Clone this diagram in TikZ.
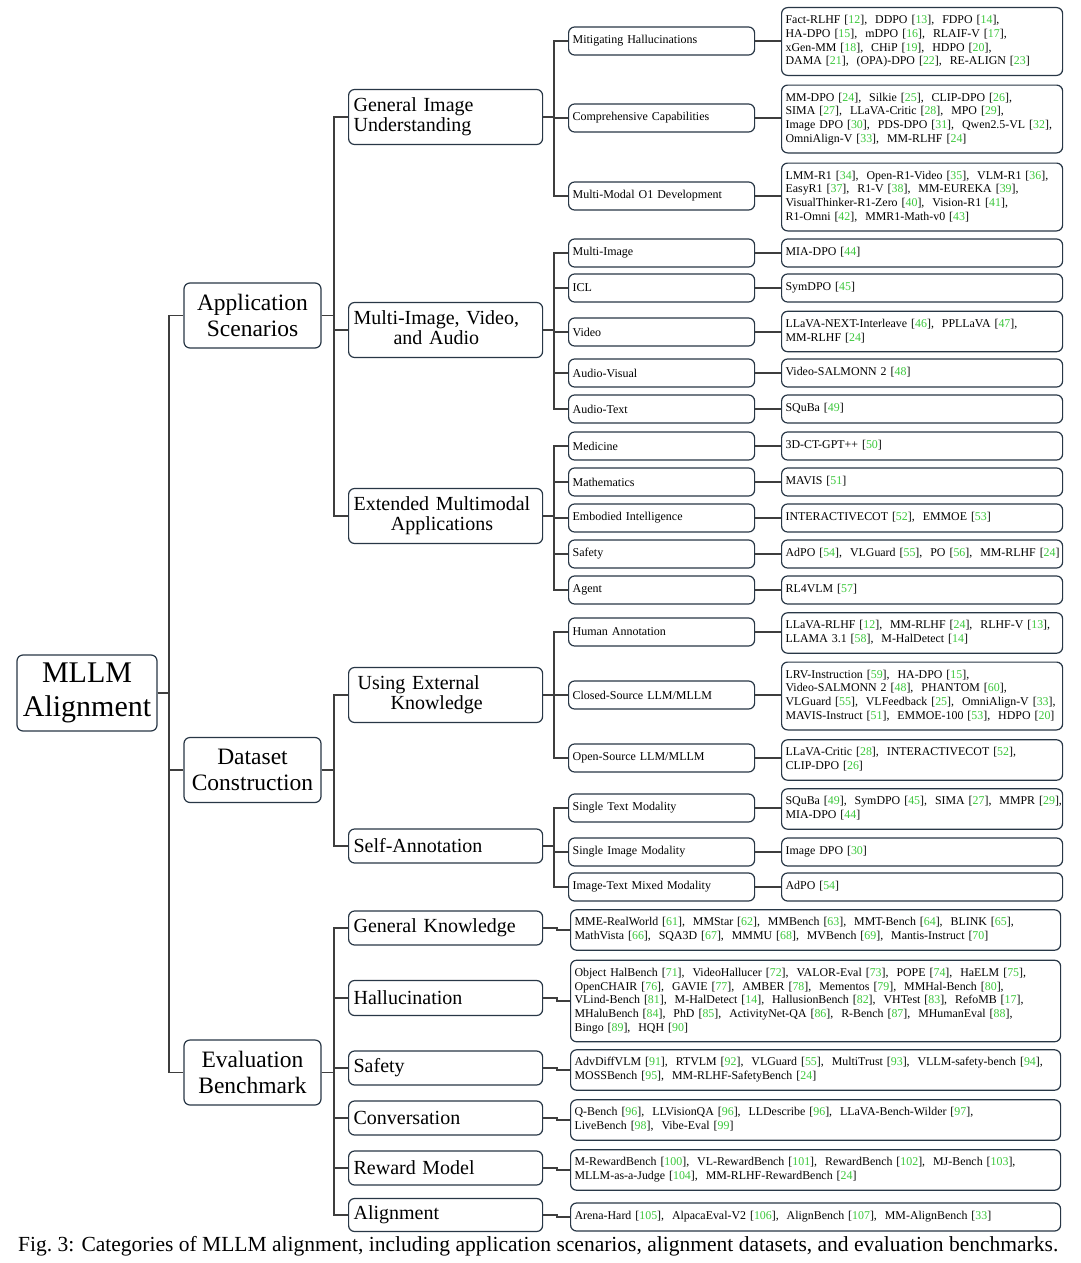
\documentclass[tikz,border=0pt]{standalone}
\usepackage{fontspec}
\setmainfont{Liberation Serif}
\usepackage{graphicx}
\definecolor{bordercol}{RGB}{40,55,70}
\definecolor{linecol}{RGB}{62,62,62}
\definecolor{citegreen}{RGB}{60,200,60}
\newcommand\cit[1]{[{\color{citegreen}#1}]}
\newcommand\lns[1]{\begin{tabular}{@{}l@{}}#1\end{tabular}}
\tikzset{
  box/.style={draw=bordercol, line width=1.2pt, rounded corners=6pt, fill=white, text=black},
  rootbox/.style={box, minimum width=140pt, minimum height=76pt, inner sep=2pt, align=center, font=\fontsize{30}{34}\selectfont},
  lonebox/.style={box, minimum width=137pt, minimum height=65pt, inner sep=2pt, align=center, font=\fontsize{23.5}{26}\selectfont},
  ltwobox/.style={box, text width=184pt, inner xsep=5pt, inner ysep=3pt, align=left, font=\fontsize{20}{20}\selectfont, anchor=west},
  midbox/.style={box, text width=178pt, inner xsep=4pt, inner ysep=3pt, minimum height=28pt, align=left, font=\fontsize{12}{13.7}\selectfont, anchor=west},
  leafbox/.style={box, text width=273pt, inner xsep=4pt, inner ysep=6.5pt, minimum height=28pt, align=left, font=\fontsize{11.9}{13.7}\selectfont, anchor=west},
  evalbox/.style={leafbox, text width=482pt},
  conn/.style={draw=linecol, line width=1.8pt},
}
\begin{document}
\begin{tikzpicture}[x=1pt,y=-1pt]
\fill[white] (0,0) rectangle (1080,1263);
\useasboundingbox (0,0) rectangle (1080,1263);

% root and level 1
\node[rootbox] (root) at (87,693) {MLLM\\Alignment};
\node[lonebox] (app) at (252.5,315.5) {Application\\Scenarios};
\node[lonebox] (data) at (252.5,770) {Dataset\\Construction};
\node[lonebox] (eval) at (252.5,1072.5) {Evaluation\\Benchmark};

% level 2
\node[ltwobox, minimum height=55pt] (giu) at (348,117) {General Image\\Understanding};
\node[ltwobox, minimum height=55pt] (miva) at (348,330) {\begin{tabular}{@{}c@{}}Multi-Image, Video,\\and Audio\end{tabular}};
\node[ltwobox, minimum height=55pt] (ema) at (348,516) {\begin{tabular}{@{}c@{}}Extended Multimodal\\Applications\end{tabular}};
\node[ltwobox, minimum height=55pt] (uek) at (348,695) {\hspace*{4pt}Using External\\\hspace*{37pt}Knowledge};
\node[ltwobox, minimum height=34pt] (sa) at (348,846) {Self-Annotation};
\node[ltwobox, minimum height=34pt] (gk) at (348,928) {General Knowledge};
\node[ltwobox, minimum height=35pt] (hal) at (348,998) {Hallucination};
\node[ltwobox, minimum height=34pt] (saf) at (348,1068) {Safety};
\node[ltwobox, minimum height=34pt] (conv) at (348,1118) {Conversation};
\node[ltwobox, minimum height=34pt] (rm) at (348,1168) {Reward Model};
\node[ltwobox, minimum height=33pt] (alg) at (348,1215) {Alignment};

% level 3 (middle column)
\node[midbox] (mh) at (568,41) {Mitigating Hallucinations};
\node[midbox] (cc) at (568,118) {Comprehensive Capabilities};
\node[midbox] (mo) at (568,196) {Multi-Modal O1 Development};
\node[midbox] (mi) at (568,253) {Multi-Image};
\node[midbox] (icl) at (568,288) {ICL};
\node[midbox] (vid) at (568,332) {Video};
\node[midbox] (av) at (568,373) {Audio-Visual};
\node[midbox] (at) at (568,409) {Audio-Text};
\node[midbox] (med) at (568,446) {Medicine};
\node[midbox] (math) at (568,482) {Mathematics};
\node[midbox] (emb) at (568,518) {Embodied Intelligence};
\node[midbox] (safe) at (568,554) {Safety};
\node[midbox] (agent) at (568,590) {Agent};
\node[midbox] (ha) at (568,632) {Human Annotation};
\node[midbox] (cs) at (568,695) {Closed-Source LLM/MLLM};
\node[midbox] (os) at (568,758) {Open-Source LLM/MLLM};
\node[midbox] (st) at (568,808) {Single Text Modality};
\node[midbox] (si) at (568,852) {Single Image Modality};
\node[midbox] (itm) at (568,887) {Image-Text Mixed Modality};

% leaves
\node[leafbox] (mhl) at (781,41.5) {\lns{Fact-RLHF \cit{12},\ \ DDPO \cit{13},\ \ FDPO \cit{14},\\HA-DPO \cit{15},\ \ mDPO \cit{16},\ \ RLAIF-V \cit{17},\\xGen-MM \cit{18},\ \ CHiP \cit{19},\ \ HDPO \cit{20},\\DAMA \cit{21},\ \ (OPA)-DPO \cit{22},\ \ RE-ALIGN \cit{23}}};
\node[leafbox] (ccl) at (781,119) {\lns{MM-DPO \cit{24},\ \ Silkie \cit{25},\ \ CLIP-DPO \cit{26},\\SIMA \cit{27},\ \ LLaVA-Critic \cit{28},\ \ MPO \cit{29},\\Image DPO \cit{30},\ \ PDS-DPO \cit{31},\ \ Qwen2.5-VL \cit{32},\\OmniAlign-V \cit{33},\ \ MM-RLHF \cit{24}}};
\node[leafbox] (mol) at (781,197) {\lns{LMM-R1 \cit{34},\ \ Open-R1-Video \cit{35},\ \ VLM-R1 \cit{36},\\EasyR1 \cit{37},\ \ R1-V \cit{38},\ \ MM-EUREKA \cit{39},\\VisualThinker-R1-Zero \cit{40},\ \ Vision-R1 \cit{41},\\R1-Omni \cit{42},\ \ MMR1-Math-v0 \cit{43}}};
\node[leafbox] (mil) at (781,253) {\lns{MIA-DPO \cit{44}}};
\node[leafbox] (icll) at (781,288) {\lns{SymDPO \cit{45}}};
\node[leafbox] (vidl) at (781,331.5) {\lns{LLaVA-NEXT-Interleave \cit{46},\ \ PPLLaVA \cit{47},\\MM-RLHF \cit{24}}};
\node[leafbox] (avl) at (781,373) {\lns{Video-SALMONN 2 \cit{48}}};
\node[leafbox] (atl) at (781,409) {\lns{SQuBa \cit{49}}};
\node[leafbox] (medl) at (781,446) {\lns{3D-CT-GPT++ \cit{50}}};
\node[leafbox] (mathl) at (781,482) {\lns{MAVIS \cit{51}}};
\node[leafbox] (embl) at (781,518) {\lns{INTERACTIVECOT \cit{52},\ \ EMMOE \cit{53}}};
\node[leafbox] (safel) at (781,554) {\lns{AdPO \cit{54},\ \ VLGuard \cit{55},\ \ PO \cit{56},\ \ MM-RLHF \cit{24}}};
\node[leafbox] (agentl) at (781,590) {\lns{RL4VLM \cit{57}}};
\node[leafbox] (hal3) at (781,633) {\lns{LLaVA-RLHF \cit{12},\ \ MM-RLHF \cit{24},\ \ RLHF-V \cit{13},\\LLAMA 3.1 \cit{58},\ \ M-HalDetect \cit{14}}};
\node[leafbox] (csl) at (781,696) {\lns{LRV-Instruction \cit{59},\ \ HA-DPO \cit{15},\\Video-SALMONN 2 \cit{48},\ \ PHANTOM \cit{60},\\VLGuard \cit{55},\ \ VLFeedback \cit{25},\ \ OmniAlign-V \cit{33},\\MAVIS-Instruct \cit{51},\ \ EMMOE-100 \cit{53},\ \ HDPO \cit{20}}};
\node[leafbox] (osl) at (781,760) {\lns{LLaVA-Critic \cit{28},\ \ INTERACTIVECOT \cit{52},\\CLIP-DPO \cit{26}}};
\node[leafbox] (stl) at (781,809) {\lns{SQuBa \cit{49},\ \ SymDPO \cit{45},\ \ SIMA \cit{27},\ \ MMPR \cit{29},\\MIA-DPO \cit{44}}};
\node[leafbox] (sil) at (781,852) {\lns{Image DPO \cit{30}}};
\node[leafbox] (itml) at (781,887) {\lns{AdPO \cit{54}}};

% evaluation leaves
\node[evalbox] (gkl) at (570,930) {\lns{MME-RealWorld \cit{61},\ \ MMStar \cit{62},\ \ MMBench \cit{63},\ \ MMT-Bench \cit{64},\ \ BLINK \cit{65},\\MathVista \cit{66},\ \ SQA3D \cit{67},\ \ MMMU \cit{68},\ \ MVBench \cit{69},\ \ Mantis-Instruct \cit{70}}};
\node[evalbox] (hall) at (570,1001) {\lns{Object HalBench \cit{71},\ \ VideoHallucer \cit{72},\ \ VALOR-Eval \cit{73},\ \ POPE \cit{74},\ \ HaELM \cit{75},\\OpenCHAIR \cit{76},\ \ GAVIE \cit{77},\ \ AMBER \cit{78},\ \ Mementos \cit{79},\ \ MMHal-Bench \cit{80},\\VLind-Bench \cit{81},\ \ M-HalDetect \cit{14},\ \ HallusionBench \cit{82},\ \ VHTest \cit{83},\ \ RefoMB \cit{17},\\MHaluBench \cit{84},\ \ PhD \cit{85},\ \ ActivityNet-QA \cit{86},\ \ R-Bench \cit{87},\ \ MHumanEval \cit{88},\\Bingo \cit{89},\ \ HQH \cit{90}}};
\node[evalbox] (safl) at (570,1070) {\lns{AdvDiffVLM \cit{91},\ \ RTVLM \cit{92},\ \ VLGuard \cit{55},\ \ MultiTrust \cit{93},\ \ VLLM-safety-bench \cit{94},\\MOSSBench \cit{95},\ \ MM-RLHF-SafetyBench \cit{24}}};
\node[evalbox] (convl) at (570,1120) {\lns{Q-Bench \cit{96},\ \ LLVisionQA \cit{96},\ \ LLDescribe \cit{96},\ \ LLaVA-Bench-Wilder \cit{97},\\LiveBench \cit{98},\ \ Vibe-Eval \cit{99}}};
\node[evalbox] (rml) at (570,1170) {\lns{M-RewardBench \cit{100},\ \ VL-RewardBench \cit{101},\ \ RewardBench \cit{102},\ \ MJ-Bench \cit{103},\\MLLM-as-a-Judge \cit{104},\ \ MM-RLHF-RewardBench \cit{24}}};
\node[evalbox] (algl) at (570,1217) {\lns{Arena-Hard \cit{105},\ \ AlpacaEval-V2 \cit{106},\ \ AlignBench \cit{107},\ \ MM-AlignBench \cit{33}}};

% connectors
\foreach \c in {app,data,eval} \draw[conn] (root.east) -- ++(11,0) |- (\c.west);
\foreach \c in {giu,miva,ema} \draw[conn] (app.east) -- ++(12,0) |- (\c.west);
\foreach \c in {uek,sa} \draw[conn] (data.east) -- ++(12,0) |- (\c.west);
\foreach \c in {gk,hal,saf,conv,rm,alg} \draw[conn] (eval.east) -- ++(12,0) |- (\c.west);
\foreach \c in {mh,cc,mo} \draw[conn] (giu.east) -- ++(11,0) |- (\c.west);
\foreach \c in {mi,icl,vid,av,at} \draw[conn] (miva.east) -- ++(11,0) |- (\c.west);
\foreach \c in {med,math,emb,safe,agent} \draw[conn] (ema.east) -- ++(11,0) |- (\c.west);
\foreach \c in {ha,cs,os} \draw[conn] (uek.east) -- ++(11,0) |- (\c.west);
\foreach \c in {st,si,itm} \draw[conn] (sa.east) -- ++(11,0) |- (\c.west);
\foreach \a/\b in {mh/mhl,cc/ccl,mo/mol,mi/mil,icl/icll,vid/vidl,av/avl,at/atl,med/medl,math/mathl,emb/embl,safe/safel,agent/agentl,ha/hal3,cs/csl,os/osl,st/stl,si/sil,itm/itml}
  \draw[conn] (\a.east) -- (\b.west |- \a.east);
\foreach \a/\b in {gk/gkl,hal/hall,saf/safl,conv/convl,rm/rml,alg/algl}
  \draw[conn] (\a.east) -- ++(14,0) |- (\b.west);

% caption
\node[anchor=west, inner sep=0pt] (cap) at (18,1246) {\resizebox{1040pt}{!}{\fontsize{18}{20}\selectfont Fig.~3: Categories of MLLM alignment, including application scenarios, alignment datasets, and evaluation benchmarks.}};
\end{tikzpicture}
\end{document}
